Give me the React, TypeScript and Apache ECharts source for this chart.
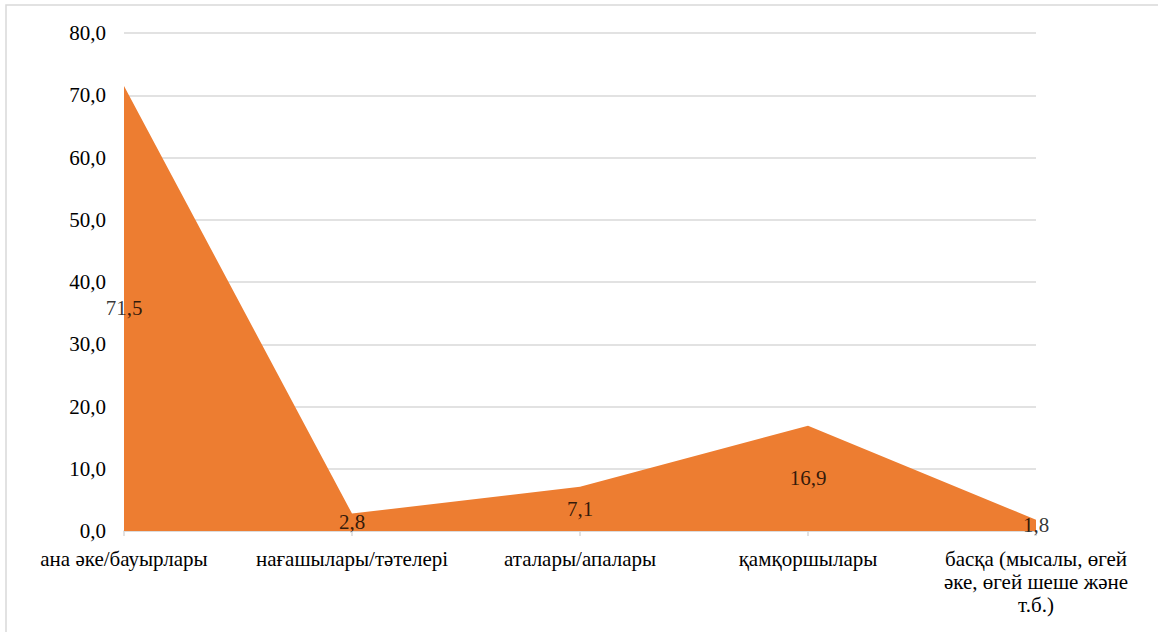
import React, { useEffect, useRef } from "react";
import * as echarts from "echarts";

const categories = [
  "ана әке/бауырлары",
  "нағашылары/тәтелері",
  "аталары/апалары",
  "қамқоршылары",
  "басқа (мысалы, өгей\nәке, өгей шеше және\nт.б.)",
];
const values = [71.5, 2.8, 7.1, 16.9, 1.8];
const yTicks = { min: 0, max: 80, interval: 10 };

const FONT = "Times New Roman";
const FS = 21;
const fmt = (v: number) => v.toFixed(1).replace(".", ",");

export default function App() {
  const ref = useRef<HTMLDivElement>(null);
  useEffect(() => {
    document.body.style.margin = "0";
    const chart = echarts.init(ref.current!, undefined, { renderer: "svg" });
    chart.setOption({
      animation: false,
      backgroundColor: "#fff",
      textStyle: { fontFamily: FONT },
      graphic: [
        {
          type: "rect",
          shape: { x: 6, y: 5, width: 1170, height: 650 },
          style: { fill: "none", stroke: "#d9d9d9", lineWidth: 1.5 },
          silent: true,
        },
      ],
      grid: { left: 124, right: 122, top: 33, bottom: 101, containLabel: false },
      xAxis: {
        type: "category",
        data: categories,
        boundaryGap: false,
        axisLine: { lineStyle: { color: "#d9d9d9", width: 1.5 } },
        axisTick: { show: true, length: 5, alignWithLabel: true, lineStyle: { color: "#d9d9d9", width: 1.5 } },
        axisLabel: {
          color: "#000",
          fontFamily: FONT,
          fontSize: FS,
          margin: 16,
          lineHeight: 23,
          interval: 0,
          align: "center",
        },
      },
      yAxis: {
        type: "value",
        min: yTicks.min,
        max: yTicks.max,
        interval: yTicks.interval,
        axisLine: { show: false },
        axisTick: { show: false },
        axisLabel: {
          color: "#000",
          fontFamily: FONT,
          fontSize: FS,
          margin: 18,
          formatter: (v: number) => fmt(v),
        },
        splitLine: { lineStyle: { color: "#d9d9d9", width: 1.5 } },
      },
      series: [
        {
          type: "line",
          data: values,
          symbol: "none",
          lineStyle: { width: 0, color: "#ED7D31" },
          areaStyle: { color: "#ED7D31", opacity: 1 },
          z: 2,
        },
        {
          type: "scatter",
          data: values.map((v, i) => ({ value: [i, v / 2], raw: v })),
          symbolSize: 0,
          z: 5,
          label: {
            show: true,
            position: "inside",
            color: "#000",
            fontFamily: FONT,
            fontSize: FS,
            formatter: (p: any) => fmt(p.data.raw),
          },
        },
      ],
    });
    return () => chart.dispose();
  }, []);
  return (
    <div
      ref={ref}
      style={{ position: "absolute", left: 0, top: 0, width: 1158, height: 632 }}
    />
  );
}
